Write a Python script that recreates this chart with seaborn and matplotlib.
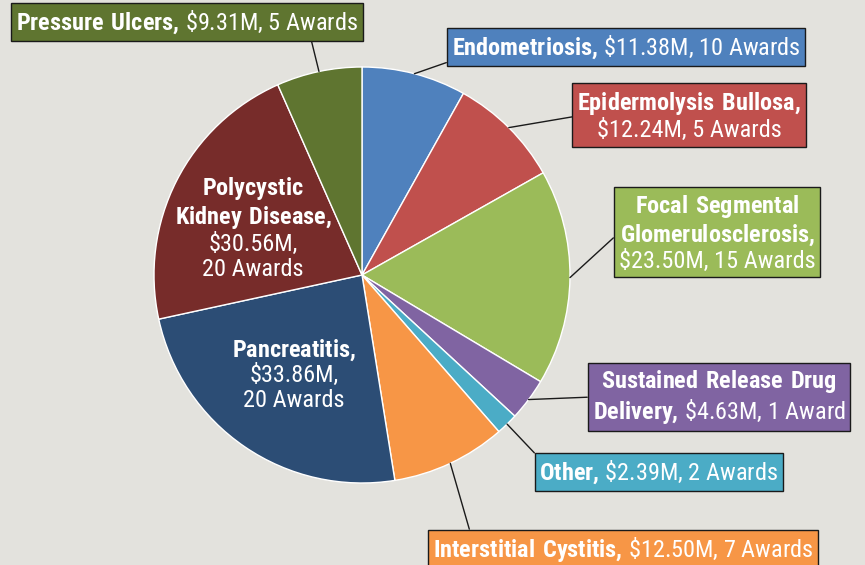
import numpy as np
import seaborn as sns
import matplotlib.pyplot as plt
from matplotlib import font_manager as fm

categories = ['Endometriosis', 'Epidermolysis Bullosa', 'Focal Segmental Glomerulosclerosis',
              'Sustained Release Drug Delivery', 'Other', 'Interstitial Cystitis',
              'Pancreatitis', 'Polycystic Kidney Disease', 'Pressure Ulcers']
funding = [11.38, 12.24, 23.50, 4.63, 2.39, 12.50, 33.86, 30.56, 9.31]
awards = [10, 5, 15, 1, 2, 7, 20, 20, 5]
colors = ['#4f81bd', '#c0504d', '#9bbb59', '#8064a2', '#4bacc6',
          '#f79646', '#2c4d75', '#772c2a', '#5f7530']

# pick a condensed family that is installed
available = set(f.name for f in fm.fontManager.ttflist)
font = 'DejaVu Sans'
for cand in ['Roboto Condensed', 'Archivo Narrow', 'Fira Sans Condensed', 'PT Sans Narrow',
             'Liberation Sans Narrow', 'IBM Plex Sans Condensed']:
    if cand in available:
        font = cand
        break

sns.set_theme(style='white')
plt.rcParams['font.family'] = [font, 'DejaVu Sans']
plt.rcParams['mathtext.fontset'] = 'custom'
plt.rcParams['mathtext.rm'] = font
plt.rcParams['mathtext.bf'] = font + ':bold'

bg = '#e3e2dd'


def bold(s):
    body = r'\mathbf{' + s.replace(' ', r'\ ') + '}'
    if s.endswith(','):
        body += r'\!'  # mathtext pads commas, take it back
    return '$' + body + '$'


def money(v, n):
    return '\\${:.2f}M, {} Award{}'.format(v, n, '' if n == 1 else 's')


label_lines = {
    'Endometriosis': [bold('Endometriosis,') + ' ' + money(funding[0], awards[0])],
    'Epidermolysis Bullosa': [bold('Epidermolysis Bullosa,'), money(funding[1], awards[1])],
    'Focal Segmental Glomerulosclerosis': [bold('Focal Segmental'), bold('Glomerulosclerosis,'),
                                           money(funding[2], awards[2])],
    'Sustained Release Drug Delivery': [bold('Sustained Release Drug'),
                                        bold('Delivery,') + ' ' + money(funding[3], awards[3])],
    'Other': [bold('Other,') + ' ' + money(funding[4], awards[4])],
    'Interstitial Cystitis': [bold('Interstitial Cystitis,') + ' ' + money(funding[5], awards[5])],
    'Pancreatitis': [bold('Pancreatitis,')] + money(funding[6], awards[6]).replace(', ', ',\n').split('\n'),
    'Polycystic Kidney Disease': [bold('Polycystic'), bold('Kidney Disease,')]
                                 + money(funding[7], awards[7]).replace(', ', ',\n').split('\n'),
    'Pressure Ulcers': [bold('Pressure Ulcers,') + ' ' + money(funding[8], awards[8])],
}

# box centre (figure pixels, from top) and where the leader leaves the box
box_pos = {
    'Endometriosis': ((626, 47), (0.0, 0.0)),
    'Epidermolysis Bullosa': ((689, 116), (0.0, 0.5)),
    'Focal Segmental Glomerulosclerosis': ((717, 233), (0.0, 0.5)),
    'Sustained Release Drug Delivery': ((719, 397), (0.0, 0.5)),
    'Other': ((659, 472), (0.0, 1.0)),
    'Interstitial Cystitis': ((623, 549), (0.1, 1.0)),
    'Pressure Ulcers': ((187, 22), (0.86, 0.0)),
}
# (radius fraction, angle nudge in degrees) for labels drawn inside the wedge
inside = {'Pancreatitis': (0.58, 0), 'Polycystic Kidney Disease': (0.57, 3.5)}

W, H = 865, 565
fig = plt.figure(figsize=(W / 100, H / 100), dpi=100, facecolor=bg)
cx, cy, r = 362, 275, 208
ax = fig.add_axes([(cx - r) / W, (H - cy - r) / H, 2 * r / W, 2 * r / H])
ax.set_facecolor(bg)

wedges, _ = ax.pie(funding, colors=colors, startangle=90, counterclock=False,
                   wedgeprops=dict(edgecolor='white', linewidth=1))
ax.set_xlim(-1, 1)
ax.set_ylim(-1, 1)
ax.set_aspect('equal')
ax.axis('off')

fs = 17.5
ls = 1.1
for cat, w in zip(categories, wedges):
    mid = np.deg2rad((w.theta1 + w.theta2) / 2)
    text = '\n'.join(label_lines[cat])
    if cat in inside:
        d, nudge = inside[cat]
        a = mid + np.deg2rad(nudge)
        ax.text(d * np.cos(a), d * np.sin(a), text, ha='center', va='center',
                multialignment='center', color='white', fontsize=fs, linespacing=ls)
        continue
    (bx, by), rel = box_pos[cat]
    ax.annotate(text, xy=(np.cos(mid), np.sin(mid)), xycoords='data',
                xytext=(bx, H - by), textcoords='figure pixels',
                ha='center', va='center', multialignment='center',
                color='white', fontsize=fs, linespacing=ls,
                bbox=dict(boxstyle='square,pad=0.2', facecolor=w.get_facecolor(),
                          edgecolor='#1a1a1a', linewidth=1),
                arrowprops=dict(arrowstyle='-', color='#1a1a1a', lw=1,
                                relpos=rel, shrinkA=0, shrinkB=0),
                annotation_clip=False)

fig.savefig('out.png', dpi=100, facecolor=bg)
